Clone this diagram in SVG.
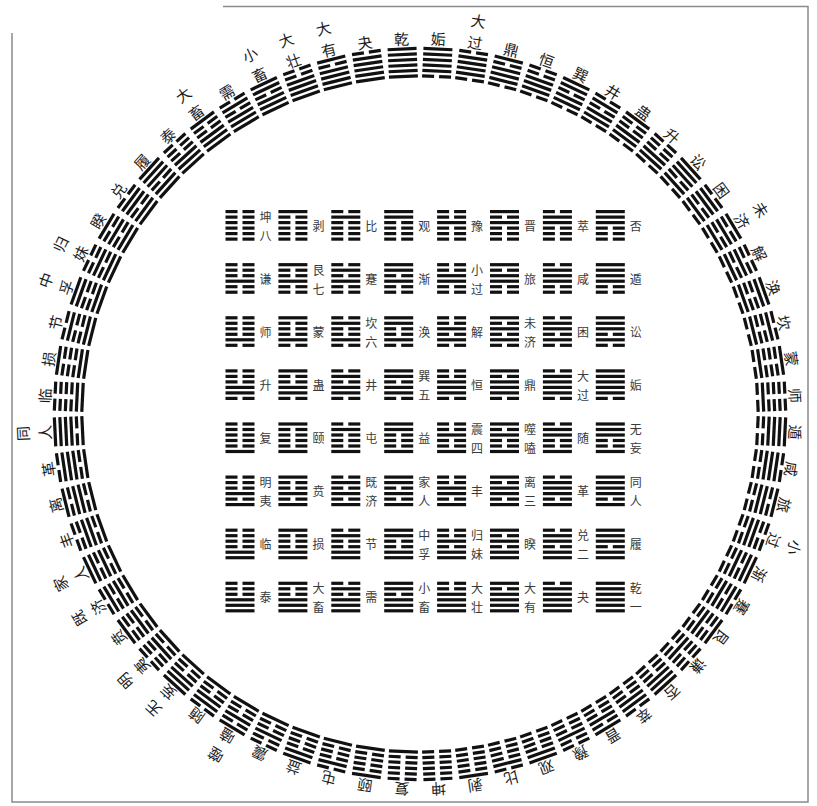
<svg xmlns="http://www.w3.org/2000/svg" width="817" height="806" viewBox="0 0 817 806">
<style>
.cl{font-family:"Noto Sans CJK SC","Noto Sans CJK JP",sans-serif;font-size:15px;fill:#1c1c1c;text-anchor:middle;dominant-baseline:central}
.sl{font-family:"Noto Sans CJK SC","Noto Sans CJK JP",sans-serif;font-size:12px;fill:#3a3a3a;text-anchor:middle;dominant-baseline:central}
.frame{fill:none;stroke:#8a8a8a;stroke-width:1.5}
rect{fill:#111}
</style>
<defs>
<rect id="Y" width="29" height="3.2"/>
<g id="N"><rect width="12" height="3.2"/><rect x="17" width="12" height="3.2"/></g>
<g id="t0"><use href="#N"/><use href="#N" y="5.5"/><use href="#N" y="11"/></g>
<g id="t1"><use href="#Y"/><use href="#N" y="5.5"/><use href="#N" y="11"/></g>
<g id="t2"><use href="#N"/><use href="#Y" y="5.5"/><use href="#N" y="11"/></g>
<g id="t3"><use href="#Y"/><use href="#Y" y="5.5"/><use href="#N" y="11"/></g>
<g id="t4"><use href="#N"/><use href="#N" y="5.5"/><use href="#Y" y="11"/></g>
<g id="t5"><use href="#Y"/><use href="#N" y="5.5"/><use href="#Y" y="11"/></g>
<g id="t6"><use href="#N"/><use href="#Y" y="5.5"/><use href="#Y" y="11"/></g>
<g id="t7"><use href="#Y"/><use href="#Y" y="5.5"/><use href="#Y" y="11"/></g>
<g id="h0"><use href="#t0"/><use href="#t0" y="16.5"/></g>
<g id="h1"><use href="#t1"/><use href="#t0" y="16.5"/></g>
<g id="h2"><use href="#t2"/><use href="#t0" y="16.5"/></g>
<g id="h3"><use href="#t3"/><use href="#t0" y="16.5"/></g>
<g id="h4"><use href="#t4"/><use href="#t0" y="16.5"/></g>
<g id="h5"><use href="#t5"/><use href="#t0" y="16.5"/></g>
<g id="h6"><use href="#t6"/><use href="#t0" y="16.5"/></g>
<g id="h7"><use href="#t7"/><use href="#t0" y="16.5"/></g>
<g id="h8"><use href="#t0"/><use href="#t1" y="16.5"/></g>
<g id="h9"><use href="#t1"/><use href="#t1" y="16.5"/></g>
<g id="h10"><use href="#t2"/><use href="#t1" y="16.5"/></g>
<g id="h11"><use href="#t3"/><use href="#t1" y="16.5"/></g>
<g id="h12"><use href="#t4"/><use href="#t1" y="16.5"/></g>
<g id="h13"><use href="#t5"/><use href="#t1" y="16.5"/></g>
<g id="h14"><use href="#t6"/><use href="#t1" y="16.5"/></g>
<g id="h15"><use href="#t7"/><use href="#t1" y="16.5"/></g>
<g id="h16"><use href="#t0"/><use href="#t2" y="16.5"/></g>
<g id="h17"><use href="#t1"/><use href="#t2" y="16.5"/></g>
<g id="h18"><use href="#t2"/><use href="#t2" y="16.5"/></g>
<g id="h19"><use href="#t3"/><use href="#t2" y="16.5"/></g>
<g id="h20"><use href="#t4"/><use href="#t2" y="16.5"/></g>
<g id="h21"><use href="#t5"/><use href="#t2" y="16.5"/></g>
<g id="h22"><use href="#t6"/><use href="#t2" y="16.5"/></g>
<g id="h23"><use href="#t7"/><use href="#t2" y="16.5"/></g>
<g id="h24"><use href="#t0"/><use href="#t3" y="16.5"/></g>
<g id="h25"><use href="#t1"/><use href="#t3" y="16.5"/></g>
<g id="h26"><use href="#t2"/><use href="#t3" y="16.5"/></g>
<g id="h27"><use href="#t3"/><use href="#t3" y="16.5"/></g>
<g id="h28"><use href="#t4"/><use href="#t3" y="16.5"/></g>
<g id="h29"><use href="#t5"/><use href="#t3" y="16.5"/></g>
<g id="h30"><use href="#t6"/><use href="#t3" y="16.5"/></g>
<g id="h31"><use href="#t7"/><use href="#t3" y="16.5"/></g>
<g id="h32"><use href="#t0"/><use href="#t4" y="16.5"/></g>
<g id="h33"><use href="#t1"/><use href="#t4" y="16.5"/></g>
<g id="h34"><use href="#t2"/><use href="#t4" y="16.5"/></g>
<g id="h35"><use href="#t3"/><use href="#t4" y="16.5"/></g>
<g id="h36"><use href="#t4"/><use href="#t4" y="16.5"/></g>
<g id="h37"><use href="#t5"/><use href="#t4" y="16.5"/></g>
<g id="h38"><use href="#t6"/><use href="#t4" y="16.5"/></g>
<g id="h39"><use href="#t7"/><use href="#t4" y="16.5"/></g>
<g id="h40"><use href="#t0"/><use href="#t5" y="16.5"/></g>
<g id="h41"><use href="#t1"/><use href="#t5" y="16.5"/></g>
<g id="h42"><use href="#t2"/><use href="#t5" y="16.5"/></g>
<g id="h43"><use href="#t3"/><use href="#t5" y="16.5"/></g>
<g id="h44"><use href="#t4"/><use href="#t5" y="16.5"/></g>
<g id="h45"><use href="#t5"/><use href="#t5" y="16.5"/></g>
<g id="h46"><use href="#t6"/><use href="#t5" y="16.5"/></g>
<g id="h47"><use href="#t7"/><use href="#t5" y="16.5"/></g>
<g id="h48"><use href="#t0"/><use href="#t6" y="16.5"/></g>
<g id="h49"><use href="#t1"/><use href="#t6" y="16.5"/></g>
<g id="h50"><use href="#t2"/><use href="#t6" y="16.5"/></g>
<g id="h51"><use href="#t3"/><use href="#t6" y="16.5"/></g>
<g id="h52"><use href="#t4"/><use href="#t6" y="16.5"/></g>
<g id="h53"><use href="#t5"/><use href="#t6" y="16.5"/></g>
<g id="h54"><use href="#t6"/><use href="#t6" y="16.5"/></g>
<g id="h55"><use href="#t7"/><use href="#t6" y="16.5"/></g>
<g id="h56"><use href="#t0"/><use href="#t7" y="16.5"/></g>
<g id="h57"><use href="#t1"/><use href="#t7" y="16.5"/></g>
<g id="h58"><use href="#t2"/><use href="#t7" y="16.5"/></g>
<g id="h59"><use href="#t3"/><use href="#t7" y="16.5"/></g>
<g id="h60"><use href="#t4"/><use href="#t7" y="16.5"/></g>
<g id="h61"><use href="#t5"/><use href="#t7" y="16.5"/></g>
<g id="h62"><use href="#t6"/><use href="#t7" y="16.5"/></g>
<g id="h63"><use href="#t7"/><use href="#t7" y="16.5"/></g>
</defs>
<path class="frame" d="M223 6.5H808V802H12V33"/>
<g id="circle">
<g id="c63" transform="rotate(-2.8125 420 414)"><use href="#h63" x="405.5" y="47"/><text class="cl" x="420" y="38">乾</text></g>
<g id="c62" transform="rotate(-8.4375 420 414)"><use href="#h62" x="405.5" y="47"/><text class="cl" x="420" y="38">夬</text></g>
<g id="c61" transform="rotate(-14.0625 420 414)"><use href="#h61" x="405.5" y="47"/><text class="cl" x="420" y="16">大</text><text class="cl" x="420" y="38">有</text></g>
<g id="c60" transform="rotate(-19.6875 420 414)"><use href="#h60" x="405.5" y="47"/><text class="cl" x="420" y="16">大</text><text class="cl" x="420" y="38">壮</text></g>
<g id="c59" transform="rotate(-25.3125 420 414)"><use href="#h59" x="405.5" y="47"/><text class="cl" x="420" y="16">小</text><text class="cl" x="420" y="38">畜</text></g>
<g id="c58" transform="rotate(-30.9375 420 414)"><use href="#h58" x="405.5" y="47"/><text class="cl" x="420" y="38">需</text></g>
<g id="c57" transform="rotate(-36.5625 420 414)"><use href="#h57" x="405.5" y="47"/><text class="cl" x="420" y="16">大</text><text class="cl" x="420" y="38">畜</text></g>
<g id="c56" transform="rotate(-42.1875 420 414)"><use href="#h56" x="405.5" y="47"/><text class="cl" x="420" y="38">泰</text></g>
<g id="c55" transform="rotate(-47.8125 420 414)"><use href="#h55" x="405.5" y="47"/><text class="cl" x="420" y="38">履</text></g>
<g id="c54" transform="rotate(-53.4375 420 414)"><use href="#h54" x="405.5" y="47"/><text class="cl" x="420" y="38">兑</text></g>
<g id="c53" transform="rotate(-59.0625 420 414)"><use href="#h53" x="405.5" y="47"/><text class="cl" x="420" y="38">睽</text></g>
<g id="c52" transform="rotate(-64.6875 420 414)"><use href="#h52" x="405.5" y="47"/><text class="cl" x="420" y="16">归</text><text class="cl" x="420" y="38">妹</text></g>
<g id="c51" transform="rotate(-70.3125 420 414)"><use href="#h51" x="405.5" y="47"/><text class="cl" x="420" y="16">中</text><text class="cl" x="420" y="38">孚</text></g>
<g id="c50" transform="rotate(-75.9375 420 414)"><use href="#h50" x="405.5" y="47"/><text class="cl" x="420" y="38">节</text></g>
<g id="c49" transform="rotate(-81.5625 420 414)"><use href="#h49" x="405.5" y="47"/><text class="cl" x="420" y="38">损</text></g>
<g id="c48" transform="rotate(-87.1875 420 414)"><use href="#h48" x="405.5" y="47"/><text class="cl" x="420" y="38">临</text></g>
<g id="c47" transform="rotate(-92.8125 420 414)"><use href="#h47" x="405.5" y="47"/><text class="cl" x="420" y="16">同</text><text class="cl" x="420" y="38">人</text></g>
<g id="c46" transform="rotate(-98.4375 420 414)"><use href="#h46" x="405.5" y="47"/><text class="cl" x="420" y="38">革</text></g>
<g id="c45" transform="rotate(-104.0625 420 414)"><use href="#h45" x="405.5" y="47"/><text class="cl" x="420" y="38">离</text></g>
<g id="c44" transform="rotate(-109.6875 420 414)"><use href="#h44" x="405.5" y="47"/><text class="cl" x="420" y="38">丰</text></g>
<g id="c43" transform="rotate(-115.3125 420 414)"><use href="#h43" x="405.5" y="47"/><text class="cl" x="420" y="16">家</text><text class="cl" x="420" y="38">人</text></g>
<g id="c42" transform="rotate(-120.9375 420 414)"><use href="#h42" x="405.5" y="47"/><text class="cl" x="420" y="16">既</text><text class="cl" x="420" y="38">济</text></g>
<g id="c41" transform="rotate(-126.5625 420 414)"><use href="#h41" x="405.5" y="47"/><text class="cl" x="420" y="38">贲</text></g>
<g id="c40" transform="rotate(-132.1875 420 414)"><use href="#h40" x="405.5" y="47"/><text class="cl" x="420" y="16">明</text><text class="cl" x="420" y="38">夷</text></g>
<g id="c39" transform="rotate(-137.8125 420 414)"><use href="#h39" x="405.5" y="47"/><text class="cl" x="420" y="16">无</text><text class="cl" x="420" y="38">妄</text></g>
<g id="c38" transform="rotate(-143.4375 420 414)"><use href="#h38" x="405.5" y="47"/><text class="cl" x="420" y="38">随</text></g>
<g id="c37" transform="rotate(-149.0625 420 414)"><use href="#h37" x="405.5" y="47"/><text class="cl" x="420" y="16">噬</text><text class="cl" x="420" y="38">嗑</text></g>
<g id="c36" transform="rotate(-154.6875 420 414)"><use href="#h36" x="405.5" y="47"/><text class="cl" x="420" y="38">震</text></g>
<g id="c35" transform="rotate(-160.3125 420 414)"><use href="#h35" x="405.5" y="47"/><text class="cl" x="420" y="38">益</text></g>
<g id="c34" transform="rotate(-165.9375 420 414)"><use href="#h34" x="405.5" y="47"/><text class="cl" x="420" y="38">屯</text></g>
<g id="c33" transform="rotate(-171.5625 420 414)"><use href="#h33" x="405.5" y="47"/><text class="cl" x="420" y="38">颐</text></g>
<g id="c32" transform="rotate(-177.1875 420 414)"><use href="#h32" x="405.5" y="47"/><text class="cl" x="420" y="38">复</text></g>
<g id="c31" transform="rotate(2.8125 420 414)"><use href="#h31" x="405.5" y="47"/><text class="cl" x="420" y="38">姤</text></g>
<g id="c30" transform="rotate(8.4375 420 414)"><use href="#h30" x="405.5" y="47"/><text class="cl" x="420" y="16">大</text><text class="cl" x="420" y="38">过</text></g>
<g id="c29" transform="rotate(14.0625 420 414)"><use href="#h29" x="405.5" y="47"/><text class="cl" x="420" y="38">鼎</text></g>
<g id="c28" transform="rotate(19.6875 420 414)"><use href="#h28" x="405.5" y="47"/><text class="cl" x="420" y="38">恒</text></g>
<g id="c27" transform="rotate(25.3125 420 414)"><use href="#h27" x="405.5" y="47"/><text class="cl" x="420" y="38">巽</text></g>
<g id="c26" transform="rotate(30.9375 420 414)"><use href="#h26" x="405.5" y="47"/><text class="cl" x="420" y="38">井</text></g>
<g id="c25" transform="rotate(36.5625 420 414)"><use href="#h25" x="405.5" y="47"/><text class="cl" x="420" y="38">蛊</text></g>
<g id="c24" transform="rotate(42.1875 420 414)"><use href="#h24" x="405.5" y="47"/><text class="cl" x="420" y="38">升</text></g>
<g id="c23" transform="rotate(47.8125 420 414)"><use href="#h23" x="405.5" y="47"/><text class="cl" x="420" y="38">讼</text></g>
<g id="c22" transform="rotate(53.4375 420 414)"><use href="#h22" x="405.5" y="47"/><text class="cl" x="420" y="38">困</text></g>
<g id="c21" transform="rotate(59.0625 420 414)"><use href="#h21" x="405.5" y="47"/><text class="cl" x="420" y="16">未</text><text class="cl" x="420" y="38">济</text></g>
<g id="c20" transform="rotate(64.6875 420 414)"><use href="#h20" x="405.5" y="47"/><text class="cl" x="420" y="38">解</text></g>
<g id="c19" transform="rotate(70.3125 420 414)"><use href="#h19" x="405.5" y="47"/><text class="cl" x="420" y="38">涣</text></g>
<g id="c18" transform="rotate(75.9375 420 414)"><use href="#h18" x="405.5" y="47"/><text class="cl" x="420" y="38">坎</text></g>
<g id="c17" transform="rotate(81.5625 420 414)"><use href="#h17" x="405.5" y="47"/><text class="cl" x="420" y="38">蒙</text></g>
<g id="c16" transform="rotate(87.1875 420 414)"><use href="#h16" x="405.5" y="47"/><text class="cl" x="420" y="38">师</text></g>
<g id="c15" transform="rotate(92.8125 420 414)"><use href="#h15" x="405.5" y="47"/><text class="cl" x="420" y="38">遁</text></g>
<g id="c14" transform="rotate(98.4375 420 414)"><use href="#h14" x="405.5" y="47"/><text class="cl" x="420" y="38">咸</text></g>
<g id="c13" transform="rotate(104.0625 420 414)"><use href="#h13" x="405.5" y="47"/><text class="cl" x="420" y="38">旅</text></g>
<g id="c12" transform="rotate(109.6875 420 414)"><use href="#h12" x="405.5" y="47"/><text class="cl" x="420" y="16">小</text><text class="cl" x="420" y="38">过</text></g>
<g id="c11" transform="rotate(115.3125 420 414)"><use href="#h11" x="405.5" y="47"/><text class="cl" x="420" y="38">渐</text></g>
<g id="c10" transform="rotate(120.9375 420 414)"><use href="#h10" x="405.5" y="47"/><text class="cl" x="420" y="38">蹇</text></g>
<g id="c9" transform="rotate(126.5625 420 414)"><use href="#h9" x="405.5" y="47"/><text class="cl" x="420" y="38">艮</text></g>
<g id="c8" transform="rotate(132.1875 420 414)"><use href="#h8" x="405.5" y="47"/><text class="cl" x="420" y="38">谦</text></g>
<g id="c7" transform="rotate(137.8125 420 414)"><use href="#h7" x="405.5" y="47"/><text class="cl" x="420" y="38">否</text></g>
<g id="c6" transform="rotate(143.4375 420 414)"><use href="#h6" x="405.5" y="47"/><text class="cl" x="420" y="38">萃</text></g>
<g id="c5" transform="rotate(149.0625 420 414)"><use href="#h5" x="405.5" y="47"/><text class="cl" x="420" y="38">晋</text></g>
<g id="c4" transform="rotate(154.6875 420 414)"><use href="#h4" x="405.5" y="47"/><text class="cl" x="420" y="38">豫</text></g>
<g id="c3" transform="rotate(160.3125 420 414)"><use href="#h3" x="405.5" y="47"/><text class="cl" x="420" y="38">观</text></g>
<g id="c2" transform="rotate(165.9375 420 414)"><use href="#h2" x="405.5" y="47"/><text class="cl" x="420" y="38">比</text></g>
<g id="c1" transform="rotate(171.5625 420 414)"><use href="#h1" x="405.5" y="47"/><text class="cl" x="420" y="38">剥</text></g>
<g id="c0" transform="rotate(177.1875 420 414)"><use href="#h0" x="405.5" y="47"/><text class="cl" x="420" y="38">坤</text></g>
</g>
<g id="square">
<g id="s0" transform="translate(225.5 210)"><use href="#h0"/><text class="sl" x="40" y="6">坤</text><text class="sl" x="40" y="25">八</text></g>
<g id="s1" transform="translate(278.4 210)"><use href="#h1"/><text class="sl" x="40" y="15">剥</text></g>
<g id="s2" transform="translate(331.3 210)"><use href="#h2"/><text class="sl" x="40" y="15">比</text></g>
<g id="s3" transform="translate(384.2 210)"><use href="#h3"/><text class="sl" x="40" y="15">观</text></g>
<g id="s4" transform="translate(437.1 210)"><use href="#h4"/><text class="sl" x="40" y="15">豫</text></g>
<g id="s5" transform="translate(490 210)"><use href="#h5"/><text class="sl" x="40" y="15">晋</text></g>
<g id="s6" transform="translate(542.9 210)"><use href="#h6"/><text class="sl" x="40" y="15">萃</text></g>
<g id="s7" transform="translate(595.8 210)"><use href="#h7"/><text class="sl" x="40" y="15">否</text></g>
<g id="s8" transform="translate(225.5 263.1)"><use href="#h8"/><text class="sl" x="40" y="15">谦</text></g>
<g id="s9" transform="translate(278.4 263.1)"><use href="#h9"/><text class="sl" x="40" y="6">艮</text><text class="sl" x="40" y="25">七</text></g>
<g id="s10" transform="translate(331.3 263.1)"><use href="#h10"/><text class="sl" x="40" y="15">蹇</text></g>
<g id="s11" transform="translate(384.2 263.1)"><use href="#h11"/><text class="sl" x="40" y="15">渐</text></g>
<g id="s12" transform="translate(437.1 263.1)"><use href="#h12"/><text class="sl" x="40" y="6">小</text><text class="sl" x="40" y="25">过</text></g>
<g id="s13" transform="translate(490 263.1)"><use href="#h13"/><text class="sl" x="40" y="15">旅</text></g>
<g id="s14" transform="translate(542.9 263.1)"><use href="#h14"/><text class="sl" x="40" y="15">咸</text></g>
<g id="s15" transform="translate(595.8 263.1)"><use href="#h15"/><text class="sl" x="40" y="15">遁</text></g>
<g id="s16" transform="translate(225.5 316.2)"><use href="#h16"/><text class="sl" x="40" y="15">师</text></g>
<g id="s17" transform="translate(278.4 316.2)"><use href="#h17"/><text class="sl" x="40" y="15">蒙</text></g>
<g id="s18" transform="translate(331.3 316.2)"><use href="#h18"/><text class="sl" x="40" y="6">坎</text><text class="sl" x="40" y="25">六</text></g>
<g id="s19" transform="translate(384.2 316.2)"><use href="#h19"/><text class="sl" x="40" y="15">涣</text></g>
<g id="s20" transform="translate(437.1 316.2)"><use href="#h20"/><text class="sl" x="40" y="15">解</text></g>
<g id="s21" transform="translate(490 316.2)"><use href="#h21"/><text class="sl" x="40" y="6">未</text><text class="sl" x="40" y="25">济</text></g>
<g id="s22" transform="translate(542.9 316.2)"><use href="#h22"/><text class="sl" x="40" y="15">困</text></g>
<g id="s23" transform="translate(595.8 316.2)"><use href="#h23"/><text class="sl" x="40" y="15">讼</text></g>
<g id="s24" transform="translate(225.5 369.3)"><use href="#h24"/><text class="sl" x="40" y="15">升</text></g>
<g id="s25" transform="translate(278.4 369.3)"><use href="#h25"/><text class="sl" x="40" y="15">蛊</text></g>
<g id="s26" transform="translate(331.3 369.3)"><use href="#h26"/><text class="sl" x="40" y="15">井</text></g>
<g id="s27" transform="translate(384.2 369.3)"><use href="#h27"/><text class="sl" x="40" y="6">巽</text><text class="sl" x="40" y="25">五</text></g>
<g id="s28" transform="translate(437.1 369.3)"><use href="#h28"/><text class="sl" x="40" y="15">恒</text></g>
<g id="s29" transform="translate(490 369.3)"><use href="#h29"/><text class="sl" x="40" y="15">鼎</text></g>
<g id="s30" transform="translate(542.9 369.3)"><use href="#h30"/><text class="sl" x="40" y="6">大</text><text class="sl" x="40" y="25">过</text></g>
<g id="s31" transform="translate(595.8 369.3)"><use href="#h31"/><text class="sl" x="40" y="15">姤</text></g>
<g id="s32" transform="translate(225.5 422.4)"><use href="#h32"/><text class="sl" x="40" y="15">复</text></g>
<g id="s33" transform="translate(278.4 422.4)"><use href="#h33"/><text class="sl" x="40" y="15">颐</text></g>
<g id="s34" transform="translate(331.3 422.4)"><use href="#h34"/><text class="sl" x="40" y="15">屯</text></g>
<g id="s35" transform="translate(384.2 422.4)"><use href="#h35"/><text class="sl" x="40" y="15">益</text></g>
<g id="s36" transform="translate(437.1 422.4)"><use href="#h36"/><text class="sl" x="40" y="6">震</text><text class="sl" x="40" y="25">四</text></g>
<g id="s37" transform="translate(490 422.4)"><use href="#h37"/><text class="sl" x="40" y="6">噬</text><text class="sl" x="40" y="25">嗑</text></g>
<g id="s38" transform="translate(542.9 422.4)"><use href="#h38"/><text class="sl" x="40" y="15">随</text></g>
<g id="s39" transform="translate(595.8 422.4)"><use href="#h39"/><text class="sl" x="40" y="6">无</text><text class="sl" x="40" y="25">妄</text></g>
<g id="s40" transform="translate(225.5 475.5)"><use href="#h40"/><text class="sl" x="40" y="6">明</text><text class="sl" x="40" y="25">夷</text></g>
<g id="s41" transform="translate(278.4 475.5)"><use href="#h41"/><text class="sl" x="40" y="15">贲</text></g>
<g id="s42" transform="translate(331.3 475.5)"><use href="#h42"/><text class="sl" x="40" y="6">既</text><text class="sl" x="40" y="25">济</text></g>
<g id="s43" transform="translate(384.2 475.5)"><use href="#h43"/><text class="sl" x="40" y="6">家</text><text class="sl" x="40" y="25">人</text></g>
<g id="s44" transform="translate(437.1 475.5)"><use href="#h44"/><text class="sl" x="40" y="15">丰</text></g>
<g id="s45" transform="translate(490 475.5)"><use href="#h45"/><text class="sl" x="40" y="6">离</text><text class="sl" x="40" y="25">三</text></g>
<g id="s46" transform="translate(542.9 475.5)"><use href="#h46"/><text class="sl" x="40" y="15">革</text></g>
<g id="s47" transform="translate(595.8 475.5)"><use href="#h47"/><text class="sl" x="40" y="6">同</text><text class="sl" x="40" y="25">人</text></g>
<g id="s48" transform="translate(225.5 528.6)"><use href="#h48"/><text class="sl" x="40" y="15">临</text></g>
<g id="s49" transform="translate(278.4 528.6)"><use href="#h49"/><text class="sl" x="40" y="15">损</text></g>
<g id="s50" transform="translate(331.3 528.6)"><use href="#h50"/><text class="sl" x="40" y="15">节</text></g>
<g id="s51" transform="translate(384.2 528.6)"><use href="#h51"/><text class="sl" x="40" y="6">中</text><text class="sl" x="40" y="25">孚</text></g>
<g id="s52" transform="translate(437.1 528.6)"><use href="#h52"/><text class="sl" x="40" y="6">归</text><text class="sl" x="40" y="25">妹</text></g>
<g id="s53" transform="translate(490 528.6)"><use href="#h53"/><text class="sl" x="40" y="15">睽</text></g>
<g id="s54" transform="translate(542.9 528.6)"><use href="#h54"/><text class="sl" x="40" y="6">兑</text><text class="sl" x="40" y="25">二</text></g>
<g id="s55" transform="translate(595.8 528.6)"><use href="#h55"/><text class="sl" x="40" y="15">履</text></g>
<g id="s56" transform="translate(225.5 581.7)"><use href="#h56"/><text class="sl" x="40" y="15">泰</text></g>
<g id="s57" transform="translate(278.4 581.7)"><use href="#h57"/><text class="sl" x="40" y="6">大</text><text class="sl" x="40" y="25">畜</text></g>
<g id="s58" transform="translate(331.3 581.7)"><use href="#h58"/><text class="sl" x="40" y="15">需</text></g>
<g id="s59" transform="translate(384.2 581.7)"><use href="#h59"/><text class="sl" x="40" y="6">小</text><text class="sl" x="40" y="25">畜</text></g>
<g id="s60" transform="translate(437.1 581.7)"><use href="#h60"/><text class="sl" x="40" y="6">大</text><text class="sl" x="40" y="25">壮</text></g>
<g id="s61" transform="translate(490 581.7)"><use href="#h61"/><text class="sl" x="40" y="6">大</text><text class="sl" x="40" y="25">有</text></g>
<g id="s62" transform="translate(542.9 581.7)"><use href="#h62"/><text class="sl" x="40" y="15">夬</text></g>
<g id="s63" transform="translate(595.8 581.7)"><use href="#h63"/><text class="sl" x="40" y="6">乾</text><text class="sl" x="40" y="25">一</text></g>
</g>
</svg>
